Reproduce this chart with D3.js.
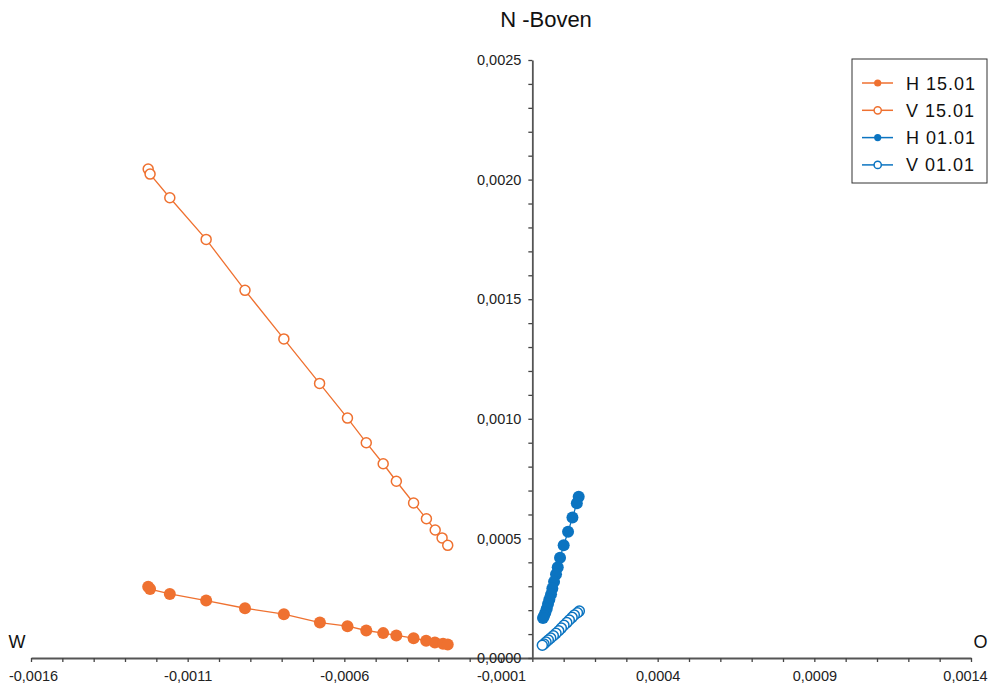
<!DOCTYPE html>
<html><head><meta charset="utf-8">
<script src="https://cdn.jsdelivr.net/npm/d3@7"></script>
<style>body{margin:0;background:#fff;} text{font-family:"Liberation Sans",Arial,sans-serif;}</style>
</head><body>
<svg id="c" width="992" height="686"></svg>
<script>
const seriesNames = ["H 15.01", "V 15.01", "H 01.01", "V 01.01"];
const h1501x = [-0.001226,-0.001220,-0.001157,-0.001041,-0.000917,-0.000793,-0.000678,-0.000590,-0.000530,-0.000476,-0.000434,-0.000379,-0.000339,-0.000311,-0.000285,-0.000270];
const h1501y = [0.000298,0.000288,0.000268,0.000240,0.000208,0.000183,0.000148,0.000133,0.000115,0.000104,0.0000945,0.0000828,0.0000719,0.0000648,0.0000598,0.0000564];
const v1501x = [-0.001226,-0.001220,-0.001157,-0.001041,-0.000917,-0.000793,-0.000679,-0.000590,-0.000530,-0.000476,-0.000434,-0.000379,-0.000338,-0.000310,-0.000288,-0.000270];
const v1501y = [0.002044,0.002023,0.001924,0.001750,0.001537,0.001334,0.001148,0.001003,0.000900,0.000812,0.000739,0.000648,0.000582,0.000535,0.000502,0.000471];
const h0101x = [0.000148,0.000142,0.000128,0.000114,0.000100,0.0000884,0.0000811,0.0000756,0.0000693,0.0000638,0.0000597,0.0000543,0.0000501,0.0000460,0.0000415,0.0000373,0.0000341];
const h0101y = [0.000674,0.000647,0.000587,0.000528,0.000471,0.000419,0.000379,0.000350,0.000319,0.000291,0.000266,0.000245,0.000226,0.000206,0.000189,0.000176,0.000167];
const v0101x = [0.000150,0.000144,0.000134,0.000127,0.000118,0.000110,0.000101,0.0000926,0.0000843,0.0000756,0.0000670,0.0000587,0.0000511,0.0000437,0.0000373,0.0000319];
const v0101y = [0.000196,0.000189,0.000180,0.000170,0.000159,0.000148,0.000137,0.000125,0.000114,0.000103,0.0000932,0.0000836,0.0000753,0.0000669,0.0000585,0.0000531];
const xTickLabels = [-0.0016,-0.0011,-0.0006,-0.0001,0.0004,0.0009,0.0014];
const yTickLabels = [0,0.0005,0.0010,0.0015,0.0020,0.0025];

const orange = "#EF7130", blue = "#0B74C1";
const series = [
  {name: seriesNames[0], xs: h1501x, ys: h1501y, color: orange, filled: true},
  {name: seriesNames[1], xs: v1501x, ys: v1501y, color: orange, filled: false},
  {name: seriesNames[2], xs: h0101x, ys: h0101y, color: blue, filled: true},
  {name: seriesNames[3], xs: v0101x, ys: v0101y, color: blue, filled: false}
];

const svg = d3.select("#c");
const x = d3.scaleLinear().domain([-0.0016, 0.0014]).range([31, 971]);
const y = d3.scaleLinear().domain([0, 0.0025]).range([658, 60]);
const loc = d3.formatLocale({decimal: ",", thousands: ".", grouping: [3], currency: ["", ""], minus: "-"});
const fmt = loc.format(".4f");

const xTicks = d3.range(0, 31).map(i => Math.round((-0.0016 + i * 0.0001) * 1e5) / 1e5);
const yTicks = d3.range(0, 26).map(i => Math.round(i * 0.0001 * 1e5) / 1e5);
const isLab = (arr, v) => arr.some(a => Math.abs(a - v) < 1e-9);

const xAxis = svg.append("g").attr("transform", `translate(0,${y(0)})`)
  .call(d3.axisBottom(x).tickValues(xTicks).tickSize(4).tickSizeOuter(0)
    .tickFormat(v => isLab(xTickLabels, v) ? fmt(v) : ""));
xAxis.selectAll("text").attr("font-size", 14.5).attr("fill", "#222").attr("y", 13)
  .attr("dx", (d, i, n) => i === 0 ? 2 : (i === n.length - 1 ? -6 : 0));

const yAxis = svg.append("g").attr("transform", `translate(${x(0)},0)`)
  .call(d3.axisLeft(y).tickValues(yTicks).tickSize(4).tickSizeOuter(0)
    .tickFormat(v => isLab(yTickLabels, v) ? fmt(v) : ""));
yAxis.selectAll("text").attr("font-size", 14.5).attr("fill", "#222").attr("x", -11);
svg.selectAll(".domain").attr("stroke", "#555").attr("stroke-width", 1.8);
svg.selectAll(".tick line").attr("stroke", "#444").attr("stroke-width", 1.3);

const line = d3.line().x(d => x(d[0])).y(d => y(d[1]));
series.forEach(s => {
  const pts = s.xs.map((v, i) => [v, s.ys[i]]);
  svg.append("path").datum(pts).attr("d", line).attr("fill", "none")
    .attr("stroke", s.color).attr("stroke-width", 1.3);
  svg.append("g").selectAll("circle").data(pts).join("circle")
    .attr("cx", d => x(d[0])).attr("cy", d => y(d[1]))
    .attr("r", s.filled ? 6 : 5)
    .attr("fill", s.filled ? s.color : "#fff")
    .attr("stroke", s.color).attr("stroke-width", s.filled ? 0 : 1.5);
});

svg.append("text").attr("x", 546).attr("y", 27).attr("text-anchor", "middle")
  .attr("font-size", 22).attr("fill", "#111").text("N -Boven");
svg.append("text").attr("x", 17).attr("y", 648).attr("text-anchor", "middle")
  .attr("font-size", 18).attr("fill", "#111").text("W");
svg.append("text").attr("x", 980.5).attr("y", 648).attr("text-anchor", "middle")
  .attr("font-size", 18).attr("fill", "#111").text("O");

const lg = svg.append("g").attr("transform", "translate(852,59)");
lg.append("rect").attr("width", 135).attr("height", 124).attr("fill", "#fff")
  .attr("stroke", "#333").attr("stroke-width", 1);
series.forEach((s, i) => {
  const cy = 24 + i * 27.3;
  lg.append("line").attr("x1", 10).attr("x2", 41).attr("y1", cy).attr("y2", cy)
    .attr("stroke", s.color).attr("stroke-width", 1.5);
  lg.append("circle").attr("cx", 25.7).attr("cy", cy).attr("r", 3.6)
    .attr("fill", s.filled ? s.color : "#fff").attr("stroke", s.color).attr("stroke-width", s.filled ? 0 : 1.5);
  lg.append("text").attr("x", 54).attr("y", cy + 6.5).attr("font-size", 18).attr("letter-spacing", 1)
    .attr("fill", "#111").text(s.name);
});
</script>
</body></html>
